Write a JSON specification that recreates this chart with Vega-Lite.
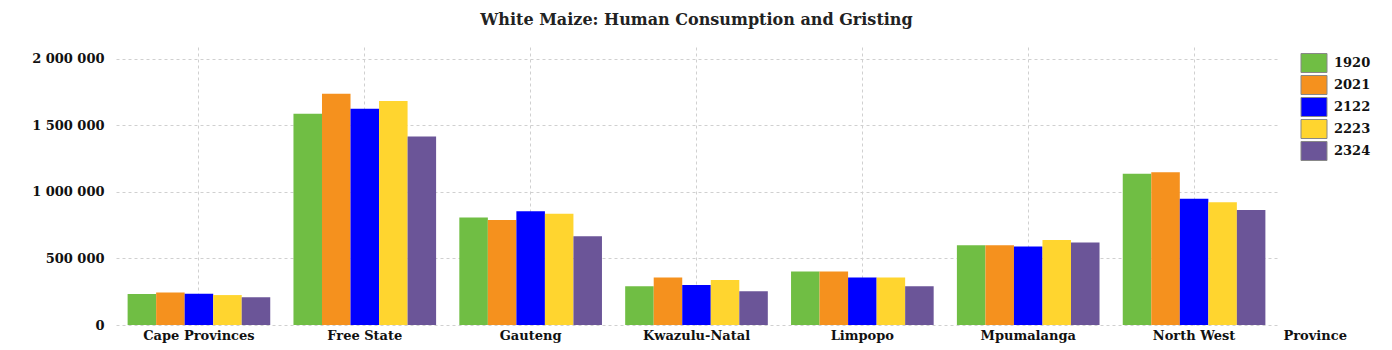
{
  "$schema": "https://vega.github.io/schema/vega-lite/v6.json",
  "autosize": {"type": "none"},
  "padding": {"left": 116, "top": 47, "right": 115, "bottom": 25},
  "width": 1161,
  "height": 278,
  "background": "white",
  "title": {
    "text": "White Maize: Human Consumption and Gristing",
    "font": "DejaVu Serif",
    "fontSize": 16,
    "fontWeight": "bold",
    "color": "#222222",
    "anchor": "middle",
    "offset": 19
  },
  "config": {
    "locale": {"number": {"decimal": ".", "thousands": " ", "grouping": [3], "currency": ["", ""]}},
    "view": {"stroke": null},
    "font": "DejaVu Serif"
  },
  "data": {
    "values": [
      {"Province": "Cape Provinces", "Season": "1920", "Tons": 233000},
      {"Province": "Cape Provinces", "Season": "2021", "Tons": 245000},
      {"Province": "Cape Provinces", "Season": "2122", "Tons": 235000},
      {"Province": "Cape Provinces", "Season": "2223", "Tons": 225000},
      {"Province": "Cape Provinces", "Season": "2324", "Tons": 208000},
      {"Province": "Free State", "Season": "1920", "Tons": 1589000},
      {"Province": "Free State", "Season": "2021", "Tons": 1739000},
      {"Province": "Free State", "Season": "2122", "Tons": 1626000},
      {"Province": "Free State", "Season": "2223", "Tons": 1684000},
      {"Province": "Free State", "Season": "2324", "Tons": 1418000},
      {"Province": "Gauteng", "Season": "1920", "Tons": 809000},
      {"Province": "Gauteng", "Season": "2021", "Tons": 789000},
      {"Province": "Gauteng", "Season": "2122", "Tons": 855000},
      {"Province": "Gauteng", "Season": "2223", "Tons": 837000},
      {"Province": "Gauteng", "Season": "2324", "Tons": 667000},
      {"Province": "Kwazulu-Natal", "Season": "1920", "Tons": 291000},
      {"Province": "Kwazulu-Natal", "Season": "2021", "Tons": 358000},
      {"Province": "Kwazulu-Natal", "Season": "2122", "Tons": 301000},
      {"Province": "Kwazulu-Natal", "Season": "2223", "Tons": 338000},
      {"Province": "Kwazulu-Natal", "Season": "2324", "Tons": 253000},
      {"Province": "Limpopo", "Season": "1920", "Tons": 403000},
      {"Province": "Limpopo", "Season": "2021", "Tons": 403000},
      {"Province": "Limpopo", "Season": "2122", "Tons": 358000},
      {"Province": "Limpopo", "Season": "2223", "Tons": 358000},
      {"Province": "Limpopo", "Season": "2324", "Tons": 291000},
      {"Province": "Mpumalanga", "Season": "1920", "Tons": 599000},
      {"Province": "Mpumalanga", "Season": "2021", "Tons": 599000},
      {"Province": "Mpumalanga", "Season": "2122", "Tons": 591000},
      {"Province": "Mpumalanga", "Season": "2223", "Tons": 639000},
      {"Province": "Mpumalanga", "Season": "2324", "Tons": 621000},
      {"Province": "North West", "Season": "1920", "Tons": 1138000},
      {"Province": "North West", "Season": "2021", "Tons": 1148000},
      {"Province": "North West", "Season": "2122", "Tons": 950000},
      {"Province": "North West", "Season": "2223", "Tons": 922000},
      {"Province": "North West", "Season": "2324", "Tons": 865000}
    ]
  },
  "mark": {"type": "bar"},
  "encoding": {
    "x": {
      "field": "Province",
      "type": "nominal",
      "sort": null,
      "scale": {"paddingInner": 0.14, "paddingOuter": 0.07},
      "axis": {
        "labelAngle": 0,
        "labelFont": "DejaVu Serif",
        "labelFontSize": 13,
        "labelFontWeight": "bold",
        "labelColor": "#111111",
        "labelPadding": 4,
        "ticks": false,
        "domain": false,
        "grid": true,
        "bandPosition": 0.5,
        "gridColor": "#d0d0d0",
        "gridDash": [3, 3],
        "gridWidth": 1,
        "title": "Province",
        "titleFont": "DejaVu Serif",
        "titleFontSize": 13,
        "titleFontWeight": "bold",
        "titleColor": "#111111",
        "titleAlign": "left",
        "titleAnchor": "start",
        "titleX": 1167,
        "titleY": 4,
        "titleBaseline": "top"
      }
    },
    "xOffset": {"field": "Season", "type": "nominal", "scale": {"paddingInner": 0, "paddingOuter": 0}},
    "y": {
      "field": "Tons",
      "type": "quantitative",
      "scale": {"domain": [0, 2090000], "nice": false},
      "axis": {
        "values": [0, 500000, 1000000, 1500000, 2000000],
        "format": ",.0f",
        "title": null,
        "labelFont": "DejaVu Serif",
        "labelFontSize": 13,
        "labelFontWeight": "bold",
        "labelColor": "#111111",
        "labelPadding": 12,
        "ticks": false,
        "domain": false,
        "gridColor": "#d0d0d0",
        "gridDash": [3, 3],
        "gridWidth": 1
      }
    },
    "color": {
      "field": "Season",
      "type": "nominal",
      "scale": {
        "domain": ["1920", "2021", "2122", "2223", "2324"],
        "range": ["#70BE44", "#F5911E", "#0000FF", "#FFD52F", "#6B5598"]
      },
      "legend": {
        "title": null,
        "orient": "none",
        "legendX": 1188,
        "legendY": 6,
        "padding": 0,
        "rowPadding": -5,
        "symbolType": "M-1.37,-1H1.37V1H-1.37Z",
        "symbolSize": 361,
        "symbolStrokeColor": "#888888",
        "symbolStrokeWidth": 1,
        "symbolOpacity": 1,
        "labelFont": "DejaVu Serif",
        "labelFontSize": 13,
        "labelFontWeight": "bold",
        "labelColor": "#111111",
        "labelOffset": 10
      }
    }
  }
}
